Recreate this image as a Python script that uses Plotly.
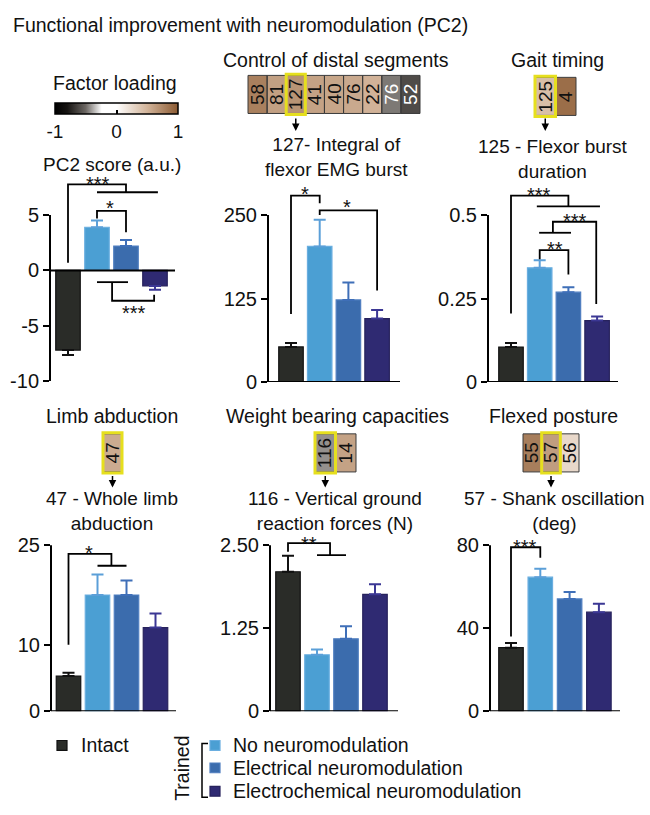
import plotly.graph_objects as go

W, H = 650, 815
FONT = "Liberation Sans, Arial, Helvetica, sans-serif"
TXT = "#111111"


def fx(p):
    return p / W


def fy(p):
    return 1 - p / H


def axnames(i):
    suf = "" if i == 1 else str(i)
    return "x" + suf, "y" + suf, "xaxis" + suf, "yaxis" + suf


# ---------------- data ----------------
groups = ["Intact", "No neuromodulation", "Electrical neuromodulation",
          "Electrochemical neuromodulation"]

pc2_mean = [-7.2, 3.9, 2.2, -1.4]
pc2_err = [0.45, 0.6, 0.55, 0.35]
pc2_ticks = [-10, -5, 0, 5]
pc2_ticktext = ["-10", "-5", "0", "5"]

emg127_mean = [52.6, 203, 123, 95]
emg127_err = [6, 40, 26, 13]
emg127_ticks = [0, 125, 250]
emg127_ticktext = ["0", "125", "250"]

burst125_mean = [0.105, 0.342, 0.269, 0.184]
burst125_err = [0.012, 0.023, 0.015, 0.012]
burst125_ticks = [0, 0.25, 0.5]
burst125_ticktext = ["0", "0.25", "0.5"]

abd47_mean = [5.3, 17.5, 17.5, 12.6]
abd47_err = [0.5, 3.1, 2.2, 2.1]
abd47_ticks = [0, 10, 25]
abd47_ticktext = ["0", "10", "25"]

vgrf116_mean = [2.10, 0.85, 1.09, 1.76]
vgrf116_err = [0.24, 0.08, 0.19, 0.15]
vgrf116_ticks = [0, 1.25, 2.5]
vgrf116_ticktext = ["0", "1.25", "2.50"]

shank57_mean = [30.6, 64.6, 54.1, 47.7]
shank57_err = [2.3, 4.1, 3.4, 4.1]
shank57_ticks = [0, 40, 80]
shank57_ticktext = ["0", "40", "80"]

# factor-loading strips (variable ids and loadings)
distal_ids = ["58", "81", "127", "41", "40", "76", "22", "76", "52"]
distal_load = [0.79, 0.61, 0.68, 0.60, 0.58, 0.56, 0.51, -0.47, -0.60]
gait_ids = ["125", "4"]
gait_load = [0.43, 0.89]
limb_ids = ["47"]
limb_load = [0.55]
weight_ids = ["116", "14"]
weight_load = [-0.43, 0.60]
flexed_ids = ["55", "57", "56"]
flexed_load = [0.80, 0.63, 0.26]

loading_ticks = [-1, 0, 1]
loading_ticktext = ["-1", "0", "1"]

# significance brackets (data units of each panel) and labels
pc2_brackets = [
    [(0, 0.7), (0, 7.77), (2.0, 7.77), (2.0, 7.06)], [(1.0, 7.06), (3.1, 7.06)],
    [(1.0, 4.68), (1.0, 5.38), (2.0, 5.38), (2.0, 3.44)],
    [(1.0, -1.06), (2.07, -1.06)], [(1.52, -1.06), (1.52, -2.74), (2.97, -2.74), (2.97, -2.2)],
]
pc2_stars = [(1.03, 7.8, "***"), (1.45, 5.6, "*"), (2.26, -3.88, "***")]

emg127_brackets = [
    [(0, 102), (0, 279), (1.0, 279), (1.0, 267.5)],
    [(1.0, 250), (1.0, 257), (3.0, 257), (3.0, 137)],
]
emg127_stars = [(0.49, 281, "*"), (1.95, 262, "*")]

burst125_brackets = [
    [(0, 0.205), (0, 0.558), (2.0, 0.558), (2.0, 0.526)], [(0.9, 0.526), (3.1, 0.526)],
    [(2.97, 0.234), (2.97, 0.48), (1.46, 0.48), (1.46, 0.447)], [(0.98, 0.447), (2.09, 0.447)],
    [(1.0, 0.368), (1.0, 0.395), (2.0, 0.395), (2.0, 0.322)],
]
burst125_stars = [(0.98, 0.56, "***"), (2.23, 0.481, "***"), (1.53, 0.399, "**")]

abd47_brackets = [
    [(0, 10), (0, 23.7), (1.48, 23.7), (1.48, 21.9)], [(1.0, 21.9), (2.0, 21.9)],
]
abd47_stars = [(0.72, 23.75, "*")]

vgrf116_brackets = [
    [(0, 2.40), (0, 2.53), (1.45, 2.53), (1.45, 2.35)], [(1.0, 2.35), (2.0, 2.35)],
]
vgrf116_stars = [(0.72, 2.52, "**")]

shank57_brackets = [
    [(0, 36), (0, 79), (1.0, 79), (1.0, 74)],
]
shank57_stars = [(0.48, 79, "***")]

# ---------------- styles / layout ----------------
bar_colors = ["#2a2c28", "#4b9fd3", "#3b6cad", "#2f2a72"]
edge_colors = ["#111111", "#6aaee0", "#4f7ec0", "#27225c"]
err_colors = ["#111111", "#5b9fd8", "#3f6fb8", "#3b3794"]

panels = [
    dict(mean=pc2_mean, err=pc2_err, ticks=pc2_ticks, tt=pc2_ticktext,
         br=pc2_brackets, st=pc2_stars,
         left=50, end=175, c0=68, sp=29, ref=((-10, 382), (5, 212)), yr=(-10, 8.3),
         title="PC2 score (a.u.)", tx=112, ty=160),
    dict(mean=emg127_mean, err=emg127_err, ticks=emg127_ticks, tt=emg127_ticktext,
         br=emg127_brackets, st=emg127_stars,
         left=268, end=400, c0=291, sp=28.7, ref=((0, 383), (250, 212)), yr=(0, 290),
         title="127- Integral of<br>flexor EMG burst", tx=336, ty=153),
    dict(mean=burst125_mean, err=burst125_err, ticks=burst125_ticks, tt=burst125_ticktext,
         br=burst125_brackets, st=burst125_stars,
         left=488, end=618, c0=511, sp=28.7, ref=((0, 383), (0.5, 212)), yr=(0, 0.575),
         title="125 - Flexor burst<br>duration", tx=553, ty=155),
    dict(mean=abd47_mean, err=abd47_err, ticks=abd47_ticks, tt=abd47_ticktext,
         br=abd47_brackets, st=abd47_stars,
         left=51, end=176, c0=68.5, sp=29, ref=((0, 720), (25, 550)), yr=(0, 25.5),
         title="47 - Whole limb<br>abduction", tx=112, ty=515),
    dict(mean=vgrf116_mean, err=vgrf116_err, ticks=vgrf116_ticks, tt=vgrf116_ticktext,
         br=vgrf116_brackets, st=vgrf116_stars,
         left=270, end=398, c0=288, sp=29, ref=((0, 720), (2.5, 550)), yr=(0, 2.62),
         title="116 - Vertical ground<br>reaction forces (N)", tx=335, ty=515),
    dict(mean=shank57_mean, err=shank57_err, ticks=shank57_ticks, tt=shank57_ticktext,
         br=shank57_brackets, st=shank57_stars,
         left=490, end=620, c0=511, sp=29.3, ref=((0, 720), (80, 550)), yr=(0, 82.5),
         title="57 - Shank oscillation<br>(deg)", tx=554, ty=515),
]

strips = [
    dict(ids=distal_ids, load=distal_load, hi=2, x0=248, x1=420, y0=69, y1=108,
         title="Control of distal segments", tx=336, ty=53, a_tail=112, a_tip=126),
    dict(ids=gait_ids, load=gait_load, hi=0, x0=535, x1=576, y0=71, y1=110,
         title="Gait timing", tx=557, ty=53, a_tail=112, a_tip=126),
    dict(ids=limb_ids, load=limb_load, hi=0, x0=103, x1=122, y0=436, y1=475,
         title="Limb abduction", tx=112, ty=418, a_tail=478, a_tip=491),
    dict(ids=weight_ids, load=weight_load, hi=0, x0=315, x1=356, y0=436, y1=475,
         title="Weight bearing capacities", tx=337, ty=418, a_tail=478, a_tip=491),
    dict(ids=flexed_ids, load=flexed_load, hi=1, x0=523, x1=579, y0=436, y1=475,
         title="Flexed posture", tx=553, ty=418, a_tail=478, a_tip=491),
]

colorscale = [
    [0.0, "#000000"], [0.1, "#161412"], [0.25, "#6c6763"], [0.38, "#ffffff"],
    [0.5, "#ffffff"], [0.75, "#d2b49a"], [1.0, "#8b5a32"],
]

fig = go.Figure()
layout = dict(
    width=W, height=H, margin=dict(l=0, r=0, t=0, b=0),
    paper_bgcolor="white", plot_bgcolor="rgba(0,0,0,0)",
    showlegend=False, barmode="overlay",
    font=dict(family=FONT, size=19.5, color=TXT),
)
shapes = []
annotations = []


def text(x, y, s, size=19.5, xanchor="center", angle=0, color=TXT):
    annotations.append(dict(x=fx(x), y=fy(y), xref="paper", yref="paper", text=s,
                            showarrow=False, xanchor=xanchor, yanchor="middle",
                            textangle=angle, font=dict(size=size, color=color, family=FONT)))


# ---- bar panels ----
for p, P in enumerate(panels, start=1):
    xa, ya, xk, yk = axnames(p)
    (v1, p1), (v2, p2) = P["ref"]
    k = (p1 - p2) / (v2 - v1)
    ptop = p1 - (P["yr"][1] - v1) * k
    pbot = p1 + (v1 - P["yr"][0]) * k
    xr = [(P["left"] - P["c0"]) / P["sp"], (P["end"] - P["c0"]) / P["sp"]]
    bw = 24.5 / P["sp"]
    layout[xk] = dict(domain=[fx(P["left"]), fx(P["end"])], range=xr, anchor=ya,
                      showline=False, showgrid=False, zeroline=False,
                      showticklabels=False, ticks="", fixedrange=True)
    layout[yk] = dict(domain=[fy(pbot), fy(ptop)], range=list(P["yr"]), anchor=xa,
                      showline=False, showgrid=False, zeroline=False,
                      tickmode="array", tickvals=P["ticks"], ticktext=P["tt"],
                      ticks="outside", ticklen=6, tickwidth=2, tickcolor="black",
                      tickfont=dict(size=20, color=TXT, family=FONT), fixedrange=True)
    for g in range(4):
        m, e = P["mean"][g], P["err"][g]
        fig.add_trace(go.Bar(
            x=[g], y=[m], width=bw, xaxis=xa, yaxis=ya, name=groups[g],
            marker=dict(color=bar_colors[g], line=dict(color=edge_colors[g], width=1.2)),
            error_y=dict(type="data", symmetric=False,
                         array=[e if m >= 0 else 0], arrayminus=[e if m < 0 else 0],
                         color=err_colors[g], thickness=2, width=6),
            hoverinfo="skip"))
    # axis lines
    shapes.append(dict(type="line", xref=f"{xa} domain", yref=ya, x0=0, x1=0,
                       y0=P["ticks"][0], y1=P["ticks"][-1], line=dict(color="black", width=2)))
    shapes.append(dict(type="line", xref=f"{xa} domain", yref=ya, x0=0, x1=1,
                       y0=0, y1=0, line=dict(color="black", width=2)))
    # brackets
    for seg in P["br"]:
        fig.add_trace(go.Scatter(x=[q[0] for q in seg], y=[q[1] for q in seg], mode="lines",
                                 line=dict(color="black", width=1.8), xaxis=xa, yaxis=ya,
                                 hoverinfo="skip"))
    for sx, sy, s in P["st"]:
        annotations.append(dict(x=sx, y=sy, xref=xa, yref=ya, text=s, showarrow=False,
                                xanchor="center", yanchor="middle",
                                font=dict(size=20, color=TXT, family=FONT)))
    text(P["tx"], P["ty"], P["title"], size=19)

# ---- factor-loading strips ----
for s, S in enumerate(strips, start=7):
    xa, ya, xk, yk = axnames(s)
    n = len(S["ids"])
    layout[xk] = dict(domain=[fx(S["x0"]), fx(S["x1"])], range=[-0.5, n - 0.5],
                      anchor=ya, visible=False, fixedrange=True)
    layout[yk] = dict(domain=[fy(S["y1"]), fy(S["y0"])], range=[-0.5, 0.5],
                      anchor=xa, visible=False, fixedrange=True)
    fig.add_trace(go.Heatmap(z=[S["load"]], x=list(range(n)), y=[0], xaxis=xa, yaxis=ya,
                             coloraxis="coloraxis", hoverinfo="skip"))
    for i, (lab, v) in enumerate(zip(S["ids"], S["load"])):
        annotations.append(dict(x=i, y=0, xref=xa, yref=ya, text=lab, showarrow=False,
                                textangle=-90, xanchor="center", yanchor="middle",
                                font=dict(size=19, family=FONT,
                                          color="white" if v < -0.45 else TXT)))
        shapes.append(dict(type="rect", xref=f"{xa} domain", yref=f"{ya} domain",
                           x0=i / n, x1=(i + 1) / n, y0=0, y1=1,
                           line=dict(color="#3a3a3a", width=1)))
    h = S["hi"]
    shapes.append(dict(type="rect", xref=f"{xa} domain", yref=f"{ya} domain",
                       x0=h / n, x1=(h + 1) / n, y0=-0.03, y1=1.03,
                       line=dict(color="#e6df1e", width=3)))
    annotations.append(dict(x=h, y=fy(S["a_tip"]), xref=xa, yref="paper", text="",
                            showarrow=True, arrowhead=2, arrowsize=1, arrowwidth=1.5,
                            arrowcolor="black", ax=0, ay=-(S["a_tip"] - S["a_tail"])))
    text(S["tx"], S["ty"], S["title"])

layout["coloraxis"] = dict(
    colorscale=colorscale, cmin=-1, cmax=1,
    colorbar=dict(orientation="h", x=fx(116.5), xanchor="center", y=fy(97), yanchor="top",
                  len=123, lenmode="pixels", thickness=11, thicknessmode="pixels",
                  outlinewidth=1.5, outlinecolor="black", xpad=0, ypad=0,
                  tickmode="array", tickvals=loading_ticks, ticktext=loading_ticktext,
                  ticks="inside", ticklen=4, tickwidth=1.5, tickcolor="black",
                  tickfont=dict(size=19, color=TXT, family=FONT)))

# ---- titles ----
annotations.append(dict(x=fx(11), y=fy(17), xref="paper", yref="paper",
                        text="Functional improvement with neuromodulation (PC2)",
                        showarrow=False, xanchor="left", yanchor="middle",
                        font=dict(size=19.5, color=TXT, family=FONT)))
text(115, 77, "Factor loading")


# ---- legend ----
def square(x0, y0, color, edge):
    shapes.append(dict(type="rect", xref="paper", yref="paper", x0=fx(x0), x1=fx(x0 + 10),
                       y0=fy(y0 + 10), y1=fy(y0), fillcolor=color,
                       line=dict(color=edge, width=1.2)))


square(57, 750, bar_colors[0], "#111111")
text(79, 755, groups[0], xanchor="left")
leg_y = [755, 778, 802]
for g in range(1, 4):
    square(210, leg_y[g - 1] - 5, bar_colors[g], edge_colors[g])
    text(231, leg_y[g - 1], groups[g], xanchor="left")
text(182, 779, "Trained", angle=-90)
shapes.append(dict(type="path", xref="paper", yref="paper",
                   path=f"M {fx(208)} {fy(753)} L {fx(202)} {fy(753)} L {fx(202)} {fy(808)} "
                        f"L {fx(208)} {fy(808)}",
                   line=dict(color="black", width=1.5)))

layout["shapes"] = shapes
layout["annotations"] = annotations
fig.update_layout(**layout)
fig.write_html("out.html", config={"displayModeBar": False},
               post_script="document.body.style.margin='0';"
                           "document.body.style.overflow='hidden';")
